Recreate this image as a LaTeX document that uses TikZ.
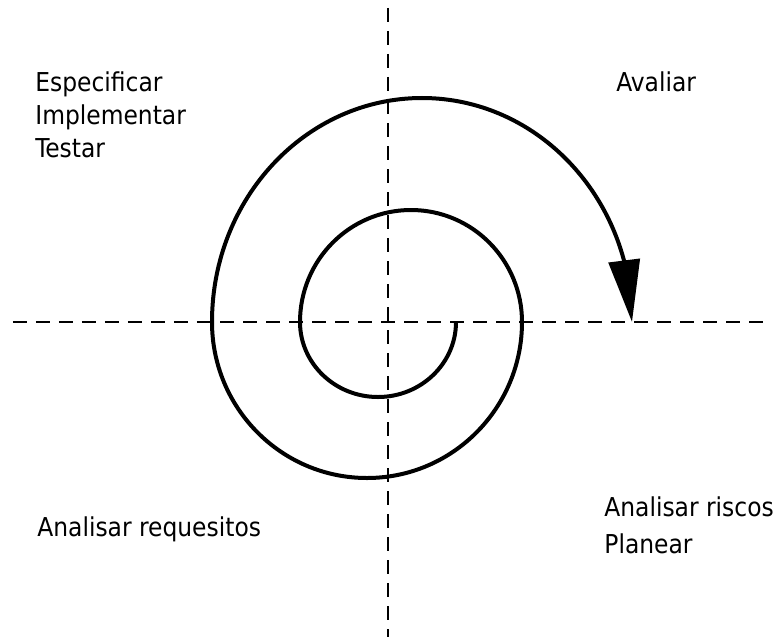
\documentclass[tikz,border=0pt]{standalone}
\usepackage{fontspec}
\setmainfont{DejaVu Sans Condensed}
\usepackage{tikz}
\usetikzlibrary{arrows.meta, bending, positioning}

\begin{document}
\begin{tikzpicture}[x=0.5pt, y=0.5pt,
    axis/.style={line width=1pt, dash pattern=on 7pt off 4.5pt},
    spiral/.style={line width=2pt, -{Triangle[length=31pt, width=15.5pt, flex]}},
    lbl/.style={inner sep=0pt, font=\fontsize{13}{16.25}\selectfont, align=left}]
  \useasboundingbox (-388,-315) rectangle (391,322);

  \draw[axis] (0,314) -- (0,-315);
  \draw[axis] (-375,0) -- (377,0);

  \draw[spiral] (68,0)
    arc[start angle=0, end angle=-180, x radius=78, y radius=75]
    arc[start angle=180, end angle=0, x radius=111, y radius=112]
    arc[start angle=0, end angle=-180, x radius=155, y radius=156]
    arc[start angle=180, end angle=0, x radius=210, y radius=224];

  % base of a multi-line node is its last line
  \node[lbl, anchor=base west] (especificar) at (-353,165) {Especificar\\Implementar\\Testar};
  \node[lbl, anchor=base west] (avaliar) at (228,230) {Avaliar};
  \node[lbl, anchor=base west] (requesitos) at (-351,-214) {Analisar requesitos};
  \node[lbl, anchor=base west, font=\fontsize{13}{18.3}\selectfont] (riscos) at (216,-231) {Analisar riscos\\Planear};
\end{tikzpicture}
\end{document}
